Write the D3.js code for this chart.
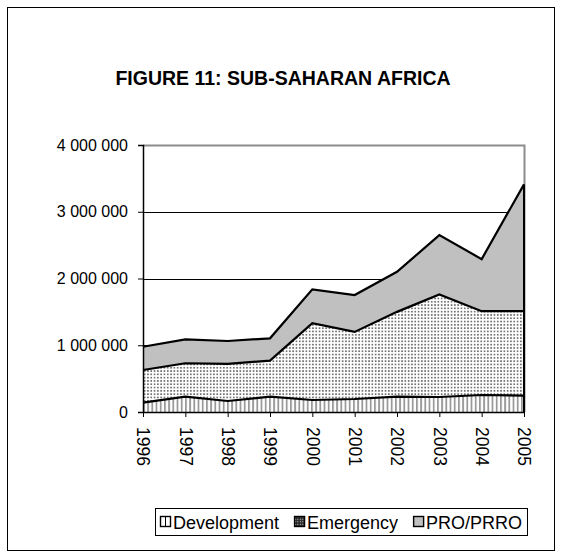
<!DOCTYPE html>
<html>
<head>
<meta charset="utf-8">
<script src="https://cdn.jsdelivr.net/npm/d3@7"></script>
<style>
  body { margin: 0; background: #fff; }
  svg { display: block; font-family: "Liberation Sans", Arial, sans-serif; }
</style>
</head>
<body>
<div id="chart"></div>
<script>
// values
const years = ['1996', '1997', '1998', '1999', '2000', '2001', '2002', '2003', '2004', '2005'];
const development = [140000, 230000, 165000, 230000, 180000, 195000, 230000, 225000, 255000, 245000];
const emergency = [489000, 500000, 555000, 540000, 1150000, 1005000, 1270000, 1535000, 1255000, 1265000];
const proPrro = [349000, 359000, 344000, 334000, 508000, 553000, 600000, 890000, 780000, 1900000];
const seriesNames = ['Development', 'Emergency', 'PRO/PRRO'];
const yTicks = [0, 1000000, 2000000, 3000000, 4000000];

const W = 561, H = 554;
const margin = { top: 145, right: 37, bottom: 142, left: 143 };
const width = W - margin.left - margin.right;
const height = H - margin.top - margin.bottom;

const rows = years.map((y, i) => ({
  year: y,
  Development: development[i],
  Emergency: emergency[i],
  'PRO/PRRO': proPrro[i]
}));

const svg = d3.select('#chart').append('svg')
  .attr('width', W)
  .attr('height', H);

// fill patterns
const defs = svg.append('defs');
const stripes = defs.append('pattern')
  .attr('id', 'pat-dev')
  .attr('patternUnits', 'userSpaceOnUse')
  .attr('width', 4.2).attr('height', 4);
stripes.append('rect').attr('width', 4.2).attr('height', 4).attr('fill', '#fff');
stripes.append('rect').attr('x', 0).attr('width', 1.8).attr('height', 4).attr('fill', '#999');

const dots = defs.append('pattern')
  .attr('id', 'pat-emg')
  .attr('patternUnits', 'userSpaceOnUse')
  .attr('width', 3.3).attr('height', 3.3);
dots.append('rect').attr('width', 3.3).attr('height', 3.3).attr('fill', '#fff');
dots.append('rect').attr('x', 0.8).attr('y', 0.8).attr('width', 1.7).attr('height', 1.7).attr('fill', '#737373');

// small legend version of the dot pattern: dark with white cells
const legDots = defs.append('pattern')
  .attr('id', 'pat-emg-leg')
  .attr('patternUnits', 'userSpaceOnUse')
  .attr('width', 2.5).attr('height', 2.5);
legDots.append('rect').attr('width', 2.5).attr('height', 2.5).attr('fill', '#222');
legDots.append('rect').attr('x', 0.7).attr('y', 0.7).attr('width', 1.1).attr('height', 1.1).attr('fill', '#ddd');

const fills = {
  Development: 'url(#pat-dev)',
  Emergency: 'url(#pat-emg)',
  'PRO/PRRO': '#c0c0c0'
};
const legendFills = {
  Development: '#fff',
  Emergency: 'url(#pat-emg-leg)',
  'PRO/PRRO': '#c0c0c0'
};

// outer frame
svg.append('rect')
  .attr('x', 7.5).attr('y', 7.5)
  .attr('width', 547).attr('height', 543)
  .attr('fill', 'none')
  .attr('stroke', '#000')
  .attr('stroke-width', 1);

svg.append('text')
  .attr('x', 283).attr('y', 85)
  .attr('text-anchor', 'middle')
  .attr('font-size', 19.5)
  .attr('font-weight', 'bold')
  .text('FIGURE 11: SUB-SAHARAN AFRICA');

const g = svg.append('g')
  .attr('transform', 'translate(' + margin.left + ',' + margin.top + ')');

const x = d3.scalePoint().domain(years).range([0, width]);
const y = d3.scaleLinear().domain([0, 4000000]).range([height, 0]);

// gridlines
g.append('g')
  .selectAll('line')
  .data(yTicks.filter(d => d > 0 && d < 4000000))
  .enter().append('line')
  .attr('x1', 0).attr('x2', width)
  .attr('y1', d => Math.round(y(d)) + 0.5)
  .attr('y2', d => Math.round(y(d)) + 0.5)
  .attr('stroke', '#000')
  .attr('stroke-width', 1);

// plot frame top/right in gray
g.append('path')
  .attr('d', 'M0,0.5H' + (width + 0.5) + 'V' + height)
  .attr('fill', 'none')
  .attr('stroke', '#8c8c8c')
  .attr('stroke-width', 2);

const stacked = d3.stack().keys(seriesNames)(rows);

const area = d3.area()
  .x(d => x(d.data.year))
  .y0(d => y(d[0]))
  .y1(d => y(d[1]));

const line = d3.line()
  .x(d => x(d.data.year))
  .y(d => y(d[1]));

g.selectAll('.layer')
  .data(stacked)
  .enter().append('path')
  .attr('class', 'layer')
  .attr('d', area)
  .attr('fill', d => fills[d.key]);

g.selectAll('.edge')
  .data(stacked)
  .enter().append('path')
  .attr('class', 'edge')
  .attr('d', line)
  .attr('fill', 'none')
  .attr('stroke', '#000')
  .attr('stroke-width', 2.2)
  .attr('stroke-linejoin', 'miter');

// right edge of the stack
g.append('line')
  .attr('x1', width).attr('x2', width)
  .attr('y1', y(0))
  .attr('y2', y(stacked[2][9][1]))
  .attr('stroke', '#000')
  .attr('stroke-width', 2);

// axes
const yAxis = d3.axisLeft(y)
  .tickValues(yTicks)
  .tickSize(5)
  .tickPadding(10)
  .tickFormat(d => d3.format(',')(d).replace(/,/g, ' '));

g.append('g')
  .attr('class', 'y axis')
  .call(yAxis)
  .call(a => a.select('.domain').attr('stroke-width', 1.5))
  .call(a => a.selectAll('text')
    .attr('font-size', 16)
    .attr('font-family', '"Liberation Sans", Arial, sans-serif')
    .attr('fill', '#000'));

const xAxis = d3.axisBottom(x)
  .tickSize(5)
  .tickSizeOuter(0);

g.append('g')
  .attr('class', 'x axis')
  .attr('transform', 'translate(0,' + height + ')')
  .call(xAxis)
  .call(a => a.select('.domain').attr('stroke-width', 1.5))
  .call(a => a.selectAll('text')
    .attr('font-size', 17.5)
    .attr('font-family', '"Liberation Sans", Arial, sans-serif')
    .attr('fill', '#000')
    .attr('transform', 'rotate(90)')
    .attr('text-anchor', 'start')
    .attr('dy', '0.35em')
    .attr('x', 15)
    .attr('y', 0));

// legend
const legend = svg.append('g').attr('transform', 'translate(155,508)');
legend.append('rect')
  .attr('x', 0.5).attr('y', 0.5)
  .attr('width', 372).attr('height', 27)
  .attr('fill', '#fff')
  .attr('stroke', '#000');

const item = legend.selectAll('.legend')
  .data(seriesNames)
  .enter().append('g')
  .attr('class', 'legend');

item.append('rect')
  .attr('x', 0.5).attr('y', 8.5)
  .attr('width', 10).attr('height', 10)
  .attr('fill', d => legendFills[d])
  .attr('stroke', '#000')
  .attr('stroke-width', 1.4);

item.filter(d => d === 'Development').append('line')
  .attr('x1', 5.5).attr('x2', 5.5).attr('y1', 9).attr('y2', 18)
  .attr('stroke', '#000');

item.append('text')
  .attr('x', 13).attr('y', 20.5)
  .attr('font-size', 18)
  .text(d => d);

// lay items out side by side from their measured widths
let lx = 5;
item.each(function() {
  const w = d3.select(this).select('text').node().getComputedTextLength();
  d3.select(this).attr('transform', 'translate(' + lx + ',0)');
  lx += 13 + w + 15;
});
</script>
</body>
</html>
